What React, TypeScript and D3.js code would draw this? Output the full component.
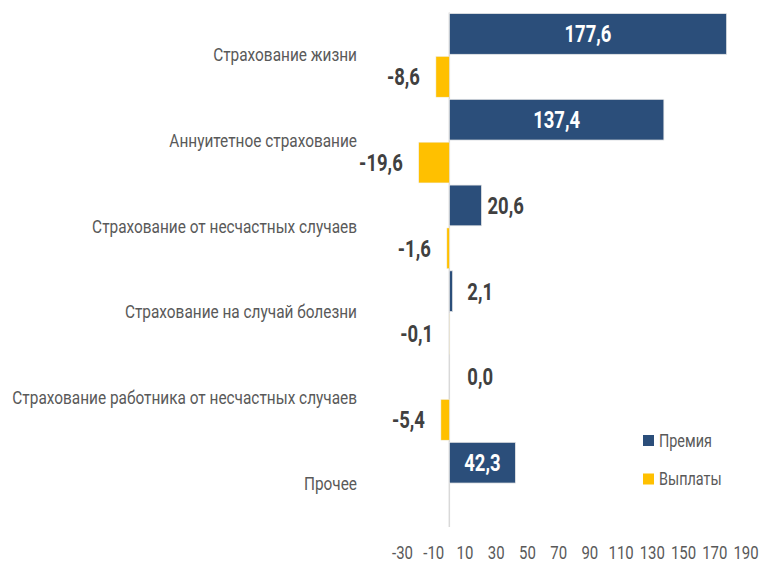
import React from "react";
import * as d3 from "d3";

const categories = [
  "Страхование жизни",
  "Аннуитетное страхование",
  "Страхование от несчастных случаев",
  "Страхование на случай болезни",
  "Страхование работника от несчастных случаев",
  "Прочее",
];
const premiums = [177.6, 137.4, 20.6, 2.1, 0.0, 42.3];
const payouts: (number | null)[] = [-8.6, -19.6, -1.6, -0.1, -5.4, null];
const xTicks = [-30, -10, 10, 30, 50, 70, 90, 110, 130, 150, 170, 190];
const seriesNames = ["Премия", "Выплаты"];

const W = 759;
const H = 562;
const BLUE = "#2B4E7A";
const GOLD = "#FFC000";
const FONT = "Roboto, 'Noto Sans', sans-serif";
const fmt = (v: number) => v.toFixed(1).replace(".", ",");

function CText(props: {
  x: number;
  y: number;
  anchor?: "start" | "middle" | "end";
  size: number;
  sx?: number;
  weight?: string | number;
  fill: string;
  children: React.ReactNode;
}) {
  const { x, y, anchor = "start", size, sx = 0.8, weight = "normal", fill, children } = props;
  return (
    <text
      transform={`translate(${x},${y}) scale(${sx},1)`}
      textAnchor={anchor}
      dominantBaseline="central"
      fontSize={size}
      fontWeight={weight}
      fill={fill}
    >
      {children}
    </text>
  );
}

export default function App() {
  const x = d3.scaleLinear().domain([-30, 190]).range([402.5, 746]);
  const y = d3.scaleBand<string>().domain(categories).range([12.5, 527]).padding(0);
  const sub = d3
    .scaleBand<string>()
    .domain(["p", "v"])
    .range([0, y.bandwidth()])
    .paddingInner(0.05)
    .paddingOuter(0.025);
  const x0 = x(0);

  return (
    <svg
      width={W}
      height={H}
      style={{ position: "absolute", left: 0, top: 0, background: "#fff", fontFamily: FONT }}
    >
      <line x1={x0} x2={x0} y1={y.range()[0]} y2={y.range()[1]} stroke="#D9D9D9" strokeWidth={1.5} />
      {categories.map((c, i) => {
        const top = y(c)!;
        const p = premiums[i];
        const v = payouts[i];
        const py = top + sub("p")!;
        const vy = top + sub("v")!;
        const bh = sub.bandwidth();
        const pw = x(p) - x0;
        const inside = pw > 60;
        return (
          <g key={c}>
            <CText x={357} y={top + y.bandwidth() / 2} anchor="end" size={17.5} sx={0.88} fill="#595959">
              {c}
            </CText>
            <rect x={x0} y={py} width={Math.max(pw, 0)} height={bh} fill={BLUE} stroke="#E8E8E8" strokeWidth={0.75} />
            <CText
              x={inside ? (x0 + x(p)) / 2 : Math.max(x(p) + 6, x0 + 18)}
              y={py + bh / 2}
              anchor={inside ? "middle" : "start"}
              size={24}
              sx={0.77}
              weight="bold"
              fill={inside ? "#FFFFFF" : "#404040"}
            >
              {fmt(p)}
            </CText>
            {v !== null && (
              <g>
                <rect x={x(v)} y={vy} width={x0 - x(v)} height={bh} fill={GOLD} stroke="#F0F0F0" strokeWidth={0.5} />
                <CText x={x(v) - 16} y={vy + bh / 2} anchor="end" size={24} sx={0.77} weight="bold" fill="#404040">
                  {fmt(v)}
                </CText>
              </g>
            )}
          </g>
        );
      })}
      {xTicks.map((t) => (
        <CText key={t} x={x(t)} y={553} anchor="middle" size={18} sx={0.83} fill="#595959">
          {t}
        </CText>
      ))}
      {seriesNames.map((s, i) => (
        <g key={s} transform={`translate(643, ${435 + i * 38.5})`}>
          <rect x={0} y={0} width={11} height={11} fill={i === 0 ? BLUE : GOLD} />
          <CText x={16} y={5.5} size={18} sx={0.8} fill="#595959">
            {s}
          </CText>
        </g>
      ))}
    </svg>
  );
}
